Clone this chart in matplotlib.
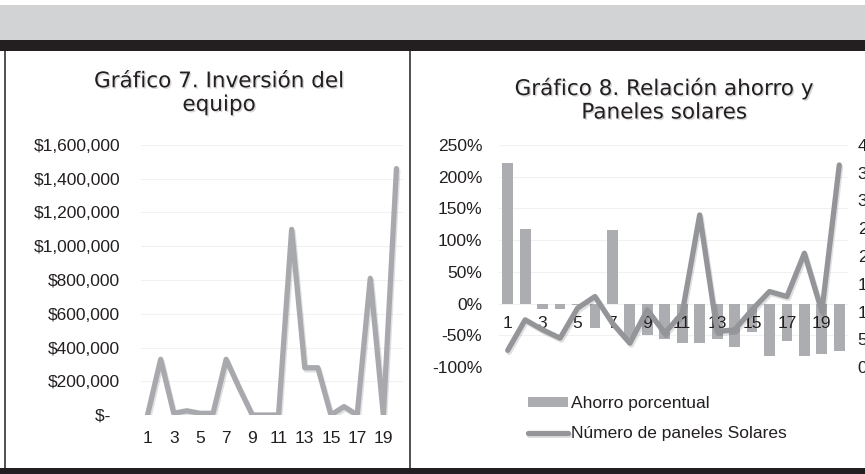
import matplotlib
matplotlib.use('Agg')
import matplotlib.pyplot as plt
import matplotlib.patheffects as pe
from matplotlib.patches import Rectangle
from matplotlib.lines import Line2D
from matplotlib.ticker import FuncFormatter

# datos
periodos = list(range(1, 21))
inversion = [0, 330000, 10000, 25000, 10000, 10000, 330000, 160000, 0, 0,
             0, 1100000, 280000, 280000, 0, 50000, 0, 810000, 0, 1460000]
ahorro = [2.21, 1.17, -0.08, -0.08, -0.02, -0.38, 1.16, -0.55, -0.50, -0.56,
          -0.62, -0.62, -0.56, -0.69, -0.45, -0.82, -0.59, -0.82, -0.79, -0.74]
paneles = [3, 8.5, 6.7, 5.2, 10.6, 12.7, 7.9, 4.3, 10.3, 6.1,
           9.7, 27.4, 6.4, 6.7, 10.3, 13.6, 12.7, 20.5, 10, 36.4]
titulo7 = 'Gráfico 7. Inversión del\nequipo'
titulo8 = 'Gráfico 8. Relación ahorro y\nPaneles solares'

W, H = 865, 474
plt.rcParams['font.family'] = ['Liberation Sans', 'DejaVu Sans']
TXT = '#231f20'
FS = 12.5


def fx(x):
    return x / W


def fy(y):
    return 1 - y / H


fig = plt.figure(figsize=(W / 100, H / 100), dpi=100)
fig.patch.set_facecolor('white')

# banda gris y barras oscuras
fig.add_artist(Rectangle((0, fy(40)), 1, 35 / H, transform=fig.transFigure, color='#d1d3d4', lw=0))
fig.add_artist(Rectangle((0, fy(51)), 1, 11 / H, transform=fig.transFigure, color=TXT, lw=0))
fig.add_artist(Rectangle((0, 0), 1, 6 / H, transform=fig.transFigure, color=TXT, lw=0))
fig.add_artist(Line2D([fx(4.5), fx(4.5)], [fy(51), fy(468)], transform=fig.transFigure, color=TXT, lw=1.1))
fig.add_artist(Line2D([fx(409.5), fx(409.5)], [fy(51), fy(468)], transform=fig.transFigure, color=TXT, lw=1.1))

sombra = [pe.SimplePatchShadow(offset=(1, -1), shadow_rgbFace='#888888', alpha=0.35), pe.Normal()]
sombra_linea = [pe.SimpleLineShadow(offset=(1, -1.5), shadow_color='k', alpha=0.12), pe.Normal()]

# ---- Grafico 7 ----
ax1 = fig.add_axes([fx(141), fy(415), 262 / W, 270 / H])
ax1.plot(periodos, inversion, color='#a7a9ac', lw=3.8, solid_joinstyle='round',
         solid_capstyle='round', path_effects=sombra_linea)
ax1.set_xlim(0.5, 20.5)
ax1.set_ylim(0, 1600000)
ax1.set_yticks(range(0, 1600001, 200000))
ax1.yaxis.set_major_formatter(FuncFormatter(lambda v, p: '$-  ' if v == 0 else '${:,.0f}'.format(v)))
ax1.set_xticks(range(1, 21, 2))
ax1.grid(axis='y', color='#f1f1f1', lw=0.8)
ax1.set_axisbelow(True)
for s in ax1.spines.values():
    s.set_visible(False)
ax1.tick_params(axis='y', length=0, pad=15, labelsize=FS, labelcolor=TXT)
ax1.tick_params(axis='x', length=0, pad=11.8, labelsize=FS, labelcolor=TXT)
fig.text(fx(219), fy(93), titulo7, ha='center', va='center', fontsize=15.5,
         family=['DejaVu Sans'], color=TXT, linespacing=1.22, path_effects=sombra)

# ---- Grafico 8 ----
ax2 = fig.add_axes([fx(499), fy(367), 349 / W, 222 / H])
ax2.bar(periodos, ahorro, width=0.62, color='#abadb0', label='Ahorro porcentual', zorder=2)
ax2.set_xlim(0.5, 20.5)
ax2.set_ylim(-1, 2.5)
ax2.set_yticks([-1, -0.5, 0, 0.5, 1, 1.5, 2, 2.5])
ax2.yaxis.set_major_formatter(FuncFormatter(lambda v, p: '{:.0f}%'.format(v * 100)))
ax2.set_xticks(range(1, 21, 2))
ax2.grid(axis='y', color='#f1f1f1', lw=0.8)
ax2.set_axisbelow(True)
ax2.xaxis.set_zorder(3)  # etiquetas por encima de las barras
for s in ax2.spines.values():
    s.set_visible(False)
ax2.spines['bottom'].set_position(('data', 0))
ax2.tick_params(axis='y', length=0, pad=12, labelsize=FS, labelcolor=TXT)
ax2.tick_params(axis='x', length=0, pad=9, labelsize=FS, labelcolor=TXT)

ax3 = ax2.twinx()
ax3.plot(periodos, paneles, color='#939598', lw=3.8, solid_joinstyle='round',
         solid_capstyle='round', label='Número de paneles Solares', path_effects=sombra_linea)
ax3.set_ylim(0, 40)
ax3.set_yticks(range(0, 41, 5))
for s in ax3.spines.values():
    s.set_visible(False)
ax3.tick_params(axis='y', length=0, pad=7, labelsize=FS, labelcolor=TXT)
fig.text(fx(664), fy(100), titulo8, ha='center', va='center', fontsize=15.5,
         family=['DejaVu Sans'], color=TXT, linespacing=1.22, path_effects=sombra)

handles = [ax2.containers[0], ax3.get_lines()[0]]
fig.legend(handles, [h.get_label() for h in handles], loc='upper left',
           bbox_to_anchor=(fx(528), fy(396)), frameon=False, fontsize=FS,
           handlelength=2.3, handleheight=0.5, handletextpad=0.15,
           labelspacing=0.88, borderpad=0, borderaxespad=0, labelcolor=TXT)

fig.savefig('out.png', dpi=100)
